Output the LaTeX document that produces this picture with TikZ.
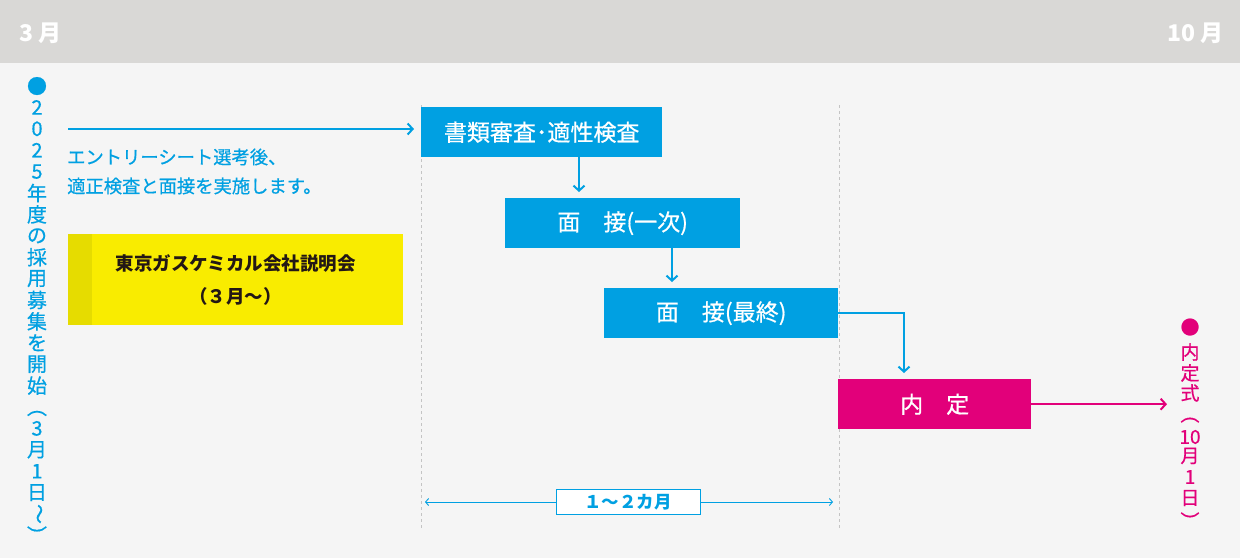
\documentclass[tikz,border=0pt]{standalone}
\usepackage{fontspec}
\setmainfont{Noto Sans CJK JP}
\newfontfamily\jpmed{Noto Sans CJK JP}[FakeBold=0.6]
\usetikzlibrary{arrows.meta}
\definecolor{tlblue}{HTML}{00A0E2}
\definecolor{tlpink}{HTML}{E2007A}
\definecolor{tlyellow}{HTML}{F9EC00}
\definecolor{tlyellowd}{HTML}{E6DC00}
\definecolor{tlhead}{HTML}{D9D8D6}
\definecolor{tlbg}{HTML}{F5F5F5}
\definecolor{tlgrid}{HTML}{C4C4C4}
\definecolor{tlink}{HTML}{231815}

\begin{document}
\begin{tikzpicture}[x=1pt,y=-1pt,
  stepbox/.style={fill=tlblue,text=white,anchor=north west,inner sep=0pt,minimum height=50pt,font=\fontsize{23}{26}\jpmed},
  flow/.style={draw=tlblue,line width=2pt,-{Straight Barb[length=5pt,width=11pt]}},
  span/.style={draw=tlblue,line width=.9pt,-{Straight Barb[length=3pt,width=7pt]}},
  vleft/.style={text=tlblue,inner sep=0pt,font=\fontsize{20}{20}\jpmed},
  vright/.style={text=tlpink,inner sep=0pt,font=\fontsize{19}{19}\jpmed},
  headtext/.style={text=white,inner sep=0pt,font=\fontsize{23}{23}\selectfont\bfseries},
  guide/.style={draw=tlgrid,line width=.8pt,dash pattern=on 3pt off 3pt}]
\useasboundingbox (0,0) rectangle (1240,558);
\fill[tlbg] (0,0) rectangle (1240,558);
\fill[tlhead] (0,0) rectangle (1240,63);
\node[headtext,anchor=west] (m3) at (19,33) {3 月};
\node[headtext,anchor=east] (m10) at (1224,33) {10 月};
\draw[guide] (421,105)--(421,528);
\draw[guide] (839,105)--(839,528);
\foreach \ch/\rot [count=\i from 0] in {●/0,2/0,0/0,2/0,5/0,年/0,度/0,の/0,採/0,用/0,募/0,集/0,を/0,開/0,始/0,（/-90,3/0,月/0,1/0,日/0,～/-90,）/-90}
  \node[vleft,rotate=\rot] (l\i) at (37,86+21.4*\i) {\ch};
\foreach \ch/\yy/\rot [count=\i] in {●/327/0,内/352/0,定/373/0,式/393/0,（/414/-90,10/437/0,月/456/0,1/477/0,日/498/0,）/521/-90}
  \node[vright,rotate=\rot] (r\i) at (1190,\yy) {\ch};
\node[stepbox,minimum width=241pt] (s1) at (421,107) {書類審査･適性検査};
\node[stepbox,minimum width=235pt] (s2) at (505,198) {面　接(一次)};
\node[stepbox,minimum width=234pt] (s3) at (604,288) {面　接(最終)};
\node[stepbox,fill=tlpink,minimum width=193pt] (naitei) at (838,379) {内　定};
\node[anchor=west,align=left,inner sep=0pt,text=tlblue,font=\fontsize{18.3}{29}\jpmed] (entry) at (67,171.5) {エントリーシート選考後、\\適正検査と面接を実施します。};
\node[fill=tlyellow,anchor=north west,minimum width=335pt,minimum height=91pt,inner sep=0pt] (setsumei) at (68,234) {};
\fill[tlyellowd] (setsumei.north west) rectangle ([xshift=24pt]setsumei.south west);
\node[align=center,inner sep=0pt,text=tlink,font=\fontsize{18.5}{33}\selectfont\bfseries] (setsumeitext) at (setsumei.center) {東京ガスケミカル会社説明会\\（３月～）};
\coordinate (start) at (68,129);
\coordinate (a1) at (579,0);
\coordinate (a2) at (672,0);
\coordinate (a3) at (904,0);
\coordinate (goal) at (1167,0);
\draw[flow,shorten >=7pt] (start) -- (start -| s1.west);
\draw[flow,shorten >=6pt] (a1 |- s1.south) -- (a1 |- s2.north);
\draw[flow,shorten >=6pt] (a2 |- s2.south) -- (a2 |- s3.north);
\draw[flow,shorten >=6pt] (s3.east) -| (a3 |- naitei.north);
\draw[flow,draw=tlpink] (naitei.east) -- (goal |- naitei.east);
\node[draw=tlblue,fill=white,line width=.9pt,minimum width=144pt,minimum height=25pt,inner sep=0pt,text=tlblue,font=\fontsize{17.5}{18}\selectfont\bfseries] (months) at (628,502) {１～２カ月};
\coordinate (spanl) at (425,502);
\coordinate (spanr) at (833,502);
\draw[span] (months.west) -- (spanl);
\draw[span] (months.east) -- (spanr);
\end{tikzpicture}
\end{document}
